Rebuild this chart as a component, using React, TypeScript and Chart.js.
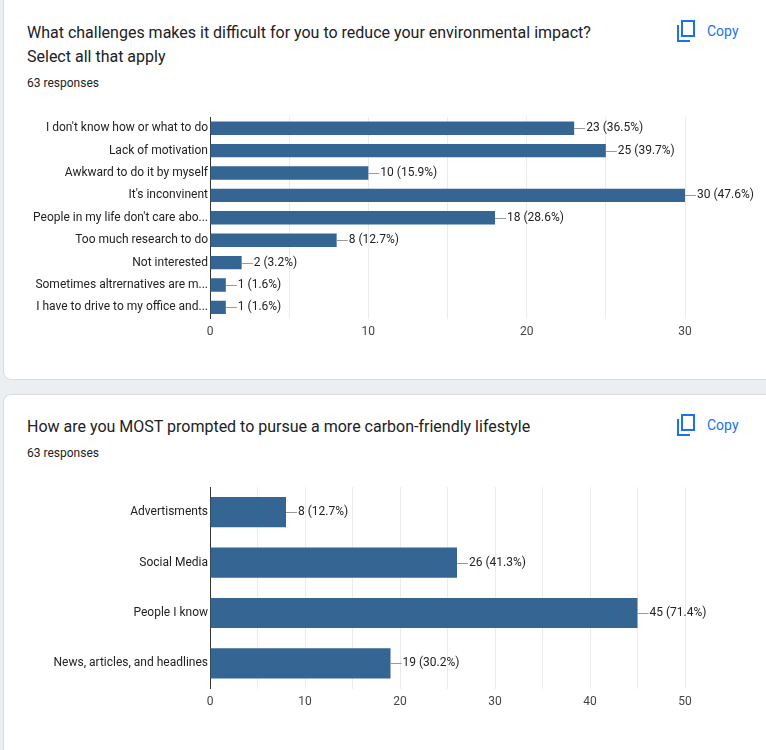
import React, { useEffect, useRef } from "react";
import { Chart, registerables } from "chart.js";
Chart.register(...registerables);

const cats1 = ["I don't know how or what to do", "Lack of motivation", "Awkward to do it by myself", "It's inconvinent", "People in my life don't care abo...", "Too much research to do", "Not interested", "Sometimes altrernatives are m...", "I have to drive to my office and..."];
const vals1 = [23, 25, 10, 30, 18, 8, 2, 1, 1];
const pct1 = ["36.5%", "39.7%", "15.9%", "47.6%", "28.6%", "12.7%", "3.2%", "1.6%", "1.6%"];
const cats2 = ["Advertisments", "Social Media", "People I know", "News, articles, and headlines"];
const vals2 = [8, 26, 45, 19];
const pct2 = ["12.7%", "41.3%", "71.4%", "30.2%"];
const FONT = "Roboto, Arial, sans-serif";

function Bar({ cats, vals, pcts, max, top, height }: any) {
  const ref = useRef<HTMLCanvasElement>(null);
  useEffect(() => {
    const labelPlugin = {
      id: "lbl",
      afterDatasetsDraw(chart: any) {
        const ctx = chart.ctx;
        const meta = chart.getDatasetMeta(0);
        ctx.save();
        ctx.font = "12px " + FONT;
        ctx.textBaseline = "middle";
        meta.data.forEach((el: any, i: number) => {
          const x = el.x, y = el.y;
          ctx.strokeStyle = "#999";
          ctx.lineWidth = 1;
          ctx.beginPath();
          ctx.moveTo(x, Math.round(y) + 0.5);
          ctx.lineTo(x + 11, Math.round(y) + 0.5);
          ctx.stroke();
          ctx.fillStyle = "#222";
          ctx.fillText(vals[i] + " (" + pcts[i] + ")", x + 12, y);
        });
        ctx.restore();
      },
    };
    const c = new Chart(ref.current!, {
      type: "bar",
      data: { labels: cats, datasets: [{ data: vals, backgroundColor: "#356592", categoryPercentage: 1, barPercentage: 0.6 }] },
      options: {
        indexAxis: "y",
        animation: false,
        responsive: false,
        layout: { padding: { right: 81, top: 12, left: 0, bottom: 0 } },
        plugins: { legend: { display: false }, tooltip: { enabled: false } },
        scales: {
          x: {
            min: 0, max,
            ticks: { stepSize: 5, color: "#444", font: { family: FONT, size: 12 }, padding: 6, callback: (v: any) => (v % 10 === 0 ? String(v) : "") , maxRotation: 0},
            grid: { color: "#ebebeb", drawTicks: false },
            border: { display: false },
          },
          y: {
            ticks: { color: "#222", font: { family: FONT, size: 12 }, padding: 2 },
            grid: { display: false, drawTicks: false },
            border: { color: "#333" },
            afterFit: (a: any) => { a.width = 210; },
          },
        },
      },
      plugins: [labelPlugin],
    });
    return () => c.destroy();
  }, []);
  return <canvas ref={ref} width={766} height={height} style={{ position: "absolute", left: 0, top, width: 766, height }} />;
}

function CopyBtn({ top }: { top: number }) {
  return (
    <div style={{ position: "absolute", left: 676, top, display: "flex", alignItems: "center", color: "#1a73e8", fontSize: 14 }}>
      <svg width="20" height="22" viewBox="0 0 20 22">
        <rect x="6" y="1" width="12" height="15" fill="none" stroke="#1a73e8" strokeWidth="2" />
        <path d="M2 5 V21 H14" fill="none" stroke="#1a73e8" strokeWidth="2" />
      </svg>
      <span style={{ marginLeft: 11 }}>Copy</span>
    </div>
  );
}

export default function App() {
  return (
    <div style={{ position: "fixed", left: 0, top: 0, width: 766, height: 750, background: "#eceff2", overflow: "hidden", fontFamily: FONT, color: "#202124" }}>
      <div style={{ position: "absolute", left: 3, top: -10, width: 780, height: 390, background: "#fff", border: "1px solid #dadce0", borderRadius: 8, boxSizing: "border-box" }} />
      <div style={{ position: "absolute", left: 3, top: 394, width: 780, height: 380, background: "#fff", border: "1px solid #dadce0", borderRadius: 8, boxSizing: "border-box" }} />
      <div style={{ position: "absolute", left: 27, top: 21, fontSize: 16, lineHeight: "24px" }}>What challenges makes it difficult for you to reduce your environmental impact?<br />Select all that apply</div>
      <div style={{ position: "absolute", left: 27, top: 76, fontSize: 12 }}>63 responses</div>
      <CopyBtn top={20} />
      <Bar cats={cats1} vals={vals1} pcts={pct1} max={30} top={105} height={240} />
      <div style={{ position: "absolute", left: 27, top: 415, fontSize: 16, lineHeight: "24px" }}>How are you MOST prompted to pursue a more carbon-friendly lifestyle</div>
      <div style={{ position: "absolute", left: 27, top: 446, fontSize: 12 }}>63 responses</div>
      <CopyBtn top={414} />
      <Bar cats={cats2} vals={vals2} pcts={pct2} max={50} top={475} height={240} />
    </div>
  );
}
